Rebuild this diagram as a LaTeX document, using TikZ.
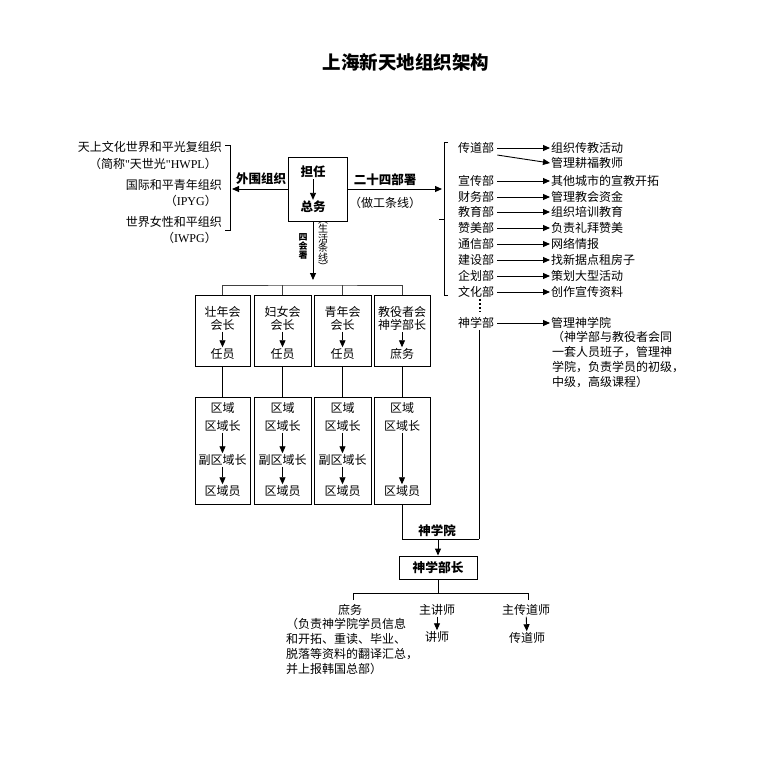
\documentclass[tikz,border=0pt]{standalone}
\usepackage{fontspec}
\setmainfont{Noto Sans CJK SC}
\newfontfamily\latinserif{Liberation Serif}
\usetikzlibrary{arrows.meta}
\tikzset{
  txt/.style={inner sep=1pt, font=\fontsize{12}{15}\selectfont},
  btxt/.style={inner sep=1pt, font=\fontsize{12.5}{15}\selectfont\bfseries},
  frame/.style={draw, line width=0.9pt, inner sep=0pt},
  ln/.style={line width=0.9pt},
  arr/.style={line width=0.9pt, -{Triangle[length=7pt,width=6pt]}},
  para/.style={txt, align=left, anchor=north west},
}
\begin{document}
\begin{tikzpicture}[x=1pt,y=-1pt]
\useasboundingbox[fill=white] (0,0) rectangle (768,768);
\node[inner sep=0pt, font=\fontsize{18.5}{20}\selectfont\bfseries] (title) at (406,62) {上海新天地组织架构};

% ---------- left: outer organisations ----------
\node[txt, anchor=east] (o1) at (223,147) {天上文化世界和平光复组织};
\node[txt, anchor=east] (o1b) at (218,164) {（简称{\latinserif "}天世光{\latinserif "HWPL}）};
\node[txt, anchor=east] (o2) at (223,185) {国际和平青年组织};
\node[txt, anchor=east] (o2b) at (218,201) {（{\latinserif IPYG}）};
\node[txt, anchor=east] (o3) at (223,222) {世界女性和平组织};
\node[txt, anchor=east] (o3b) at (218,238) {（{\latinserif IWPG}）};
\draw[ln] (225,145) -- (230,145) -- (230,230) -- (225,230);
\coordinate (lbM) at (232,189);

% ---------- central box ----------
\node[frame, minimum width=59pt, minimum height=64pt] (zw) at (317.5,189) {};
\node[btxt] (dan) at (313,172) {担任};
\node[btxt] (zong) at (313,207) {总务};
\draw[arr] (dan) -- (zong);
\draw[arr] (zw.west) -- (lbM);
\node[btxt] (wwzz) at (261,179) {外围组织};
\coordinate (rbM) at (442,189);
\draw[arr] (zw.east) -- (rbM);
\node[btxt] (esswb) at (385,180) {二十四部署};
\node[txt] (zgtx) at (385,203) {（做工条线）};

% vertical labels
\node[inner sep=0pt, font=\fontsize{9}{9}\selectfont\bfseries, align=center] (shs) at (303,246) {四\\会\\署};
\node[inner sep=0pt, font=\fontsize{10}{9.4}\selectfont, align=center] (shtx) at (323,246) {︵\\生\\活\\条\\线\\︶};
\coordinate (hub) at (313,285);
\draw[arr, shorten >=5pt] (zw.south -| hub) -- (hub);

% ---------- right bracket ----------
\draw[ln] (448,142) -- (444,142) -- (444,295) -- (448,295);
\draw[ln] (444,219) -- (439,219);

% ---------- departments ----------
\foreach \n/\y/\d/\r in {1/148/传道部/组织传教活动, 2/181/宣传部/其他城市的宣教开拓, 3/197/财务部/管理教会资金, 4/212/教育部/组织培训教育, 5/228/赞美部/负责礼拜赞美, 6/244/通信部/网络情报, 7/260/建设部/找新据点租房子, 8/276/企划部/策划大型活动, 9/292/文化部/创作宣传资料, 11/323/神学部/管理神学院}{
  \node[txt, anchor=west] (d\n) at (457,\y) {\d};
  \node[txt, anchor=west] (r\n) at (550,\y) {\r};
  \draw[arr, shorten <=2pt] (d\n.east) -- (r\n.west);
}
\node[txt, anchor=west] (r1b) at (550,163) {管理耕福教师};
\draw[arr, shorten <=2pt] (d1.south east) -- (r1b.west);
\draw[line width=1.6pt, dash pattern=on 1.6pt off 2.4pt] (480,299) -- (480,312);
\node[para] (sxbp) at (551,330) {（神学部与教役者会同\\一套人员班子，管理神\\学院，负责学员的初级，\\中级，高级课程）};

% ---------- four associations ----------
\foreach \i/\x/\w/\a/\b/\c in {1/222.5/55/壮年会/会长/任员, 2/282.5/57/妇女会/会长/任员, 3/342.5/57/青年会/会长/任员, 4/402/56/教役者会/神学部长/庶务}{
  \node[frame, minimum width=\w pt, minimum height=71pt] (u\i) at (\x,330.5) {};
  \node[txt] (u\i a) at (\x,312) {\a};
  \node[txt] (u\i b) at (\x,325) {\b};
  \node[txt] (u\i c) at (\x,354) {\c};
  \draw[arr] (u\i b) -- (u\i c);
  \node[frame, minimum width=\w pt, minimum height=107pt] (l\i) at (\x,450.5) {};
  \node[txt] (l\i a) at (\x,408) {区域};
  \node[txt] (l\i b) at (\x,426) {区域长};
  \node[txt] (l\i d) at (\x,491) {区域员};
  \draw[ln] (u\i.south) -- (l\i.north);
}
\foreach \i in {1,2,3}{
  \node[txt] (l\i c) at (l\i a |- 0,460) {副区域长};
  \draw[arr] (l\i b) -- (l\i c);
  \draw[arr] (l\i c) -- (l\i d);
}
\draw[arr] (l4b) -- (l4d);
\draw[ln, black!75] (u1.north) |- (hub) -| (u4.north);
\draw[ln, black!75] (u2.north) -- (u2.north |- hub);
\draw[ln, black!75] (u3.north) -- (u3.north |- hub);

% ---------- seminary ----------
\coordinate (sxb) at (479,539);
\draw[ln] (d11.south -| sxb) -- (sxb);
\draw[ln] (l4.south) -- (l4.south |- sxb) -- (sxb);
\node[btxt] (sxy) at (437,531) {神学院};
\node[frame, minimum width=78pt, minimum height=23pt, font=\fontsize{12.75}{15}\selectfont\bfseries] (bz) at (438,567.5) {神学部长};
\draw[arr] (bz.north |- sxb) -- (bz.north);

\coordinate (bh) at (438,593);
\node[txt] (sw) at (350,610) {庶务};
\node[txt] (zjs) at (437,610) {主讲师};
\node[txt] (zcds) at (526,610) {主传道师};
\node[txt] (js) at (437,637) {讲师};
\node[txt] (cds) at (527,638) {传道师};
\draw[ln] (bz.south) -- (bh);
\draw[ln] (353,600) -- (353,593) -- (528,593) -- (528,600);
\draw[arr] (zjs) -- (js);
\draw[arr] (zcds) -- (cds);
\node[para] (swp) at (285,617) {（负责神学院学员信息\\和开拓、重读、毕业、\\脱落等资料的翻译汇总，\\并上报韩国总部）};
\end{tikzpicture}
\end{document}
